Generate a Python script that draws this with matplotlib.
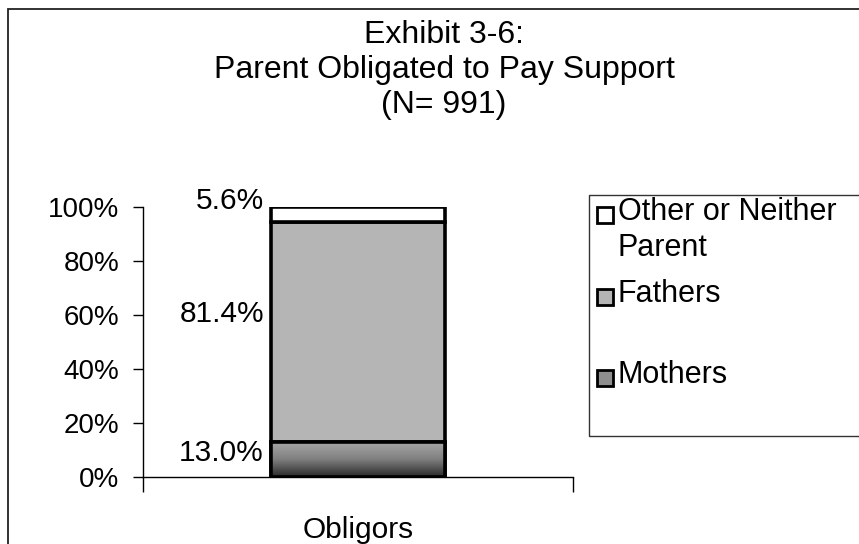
import numpy as np
import matplotlib.pyplot as plt
from matplotlib.patches import Rectangle
from matplotlib.colors import LinearSegmentedColormap

plt.rcParams['font.family'] = ['Liberation Sans', 'DejaVu Sans']

# data
categories = ['Obligors']
series = ['Mothers', 'Fathers', 'Other or Neither Parent']
legend_labels = ['Mothers', 'Fathers', 'Other or Neither\nParent']
shares = [13.0, 81.4, 5.6]
ytick_vals = [0, 20, 40, 60, 80, 100]
ytick_labels = ['0%', '20%', '40%', '60%', '80%', '100%']
title_lines = ['Exhibit 3-6:', 'Parent Obligated to Pay Support', '(N= 991)']

# style
colors = ['#8e8e8e', '#b5b5b5', '#ffffff']
label_nudge_px = [6, 18, 14]
legend_baselines_px = [383, 302, 220]
mothers_fade = LinearSegmentedColormap.from_list('fade', ['#2a2a2a', '#808080', '#a8a8a8'])

W, H = 859, 544
fig = plt.figure(figsize=(W / 100, H / 100), dpi=100)
ax = fig.add_axes([143 / W, 1 - 477 / H, 430 / W, 270 / H])


def px(x, y):
    return x / W, 1 - y / H


bar_w = 0.405
bottom = 0
for i, (name, val) in enumerate(zip(series, shares)):
    bars = ax.bar(categories, [val], bottom=bottom, width=bar_w, color=colors[i],
                  edgecolor='black', linewidth=2.6, zorder=3)
    b = bars[0]
    if i == 0:
        # darker towards the base, as in the printed chart
        grad = np.linspace(0, 1, 64).reshape(-1, 1)
        im = ax.imshow(grad, cmap=mothers_fade, origin='lower', aspect='auto',
                       extent=(b.get_x(), b.get_x() + b.get_width(), bottom, bottom + val),
                       zorder=3.5)
        im.set_clip_path(b)
        ax.bar(categories, [val], bottom=bottom, width=bar_w, color='none',
               edgecolor='black', linewidth=2.6, zorder=4)
    ax.annotate(f'{val:.1f}%', xy=(b.get_x(), bottom + val / 2),
                xytext=(-7, label_nudge_px[i]), textcoords='offset pixels',
                ha='right', va='center', fontsize=21.5)
    bottom += val

ax.set_xlim(-0.5, 0.5)
ax.set_ylim(0, 100)
ax.set_yticks(ytick_vals, ytick_labels, fontsize=20)
ax.tick_params(axis='y', length=7, width=1, pad=10)
ax.set_xticks([0], categories, fontsize=21.5)
ax.tick_params(axis='x', length=0, pad=28)
ax.set_xticks([-0.5, 0.5], minor=True)
ax.tick_params(axis='x', which='minor', length=11, width=1)
for s in ['top', 'right']:
    ax.spines[s].set_visible(False)
for s in ['left', 'bottom']:
    ax.spines[s].set_linewidth(1)

# title
for line, yb in zip(title_lines, [43, 78, 113]):
    fig.text(*px(444, yb), line, ha='center', va='baseline', fontsize=23)

# outer chart border (runs off the right and bottom edges)
x0, y0 = px(8, 9)
fig.patches.append(Rectangle((x0, -0.05), 1.2, y0 + 0.05, transform=fig.transFigure,
                             fill=False, edgecolor='#222222', linewidth=1.3))

# legend box, cut off at the right edge
lx, ly = px(589, 436)
fig.patches.append(Rectangle((lx, ly), 0.5, (436 - 195) / H, transform=fig.transFigure,
                             fill=False, edgecolor='#333333', linewidth=1))
hs = 16
for i, name in enumerate(series):
    yb = legend_baselines_px[i]
    hx, hy = px(597, yb + 3)
    fig.patches.append(Rectangle((hx, hy), hs / W, hs / H, transform=fig.transFigure,
                                 facecolor=colors[i], edgecolor='black', linewidth=2))
    txt = legend_labels[i].split('\n')
    for k, t in enumerate(txt):
        fig.text(*px(618, yb + 36 * k), t, ha='left', va='baseline', fontsize=22)

fig.savefig('out.png', dpi=100)
